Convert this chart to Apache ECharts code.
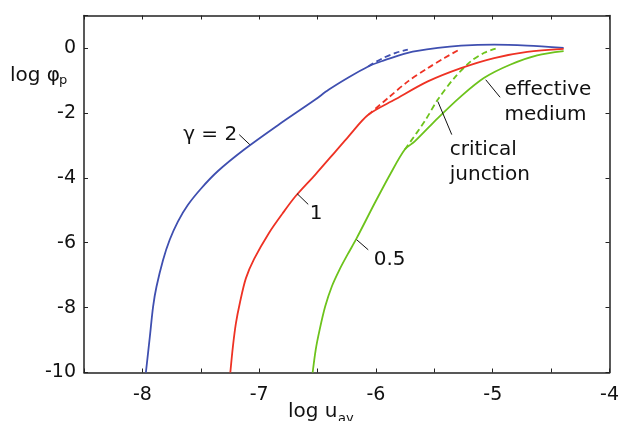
<!DOCTYPE html>
<html><head><meta charset="utf-8">
<script src="https://cdn.jsdelivr.net/npm/echarts@6/dist/echarts.min.js"></script>
<style>html,body{margin:0;padding:0;background:#fff}#c{width:622px;height:421px}</style>
</head><body><div id="c"></div>
<script>
// ---- data (log u_av, log phi_p) ----
const xTickLabels = [-8, -7, -6, -5, -4];
const yTickLabels = [-10, -8, -6, -4, -2, 0];

const g2X = [-7.97,-7.936,-7.908,-7.879,-7.823,-7.766,-7.696,-7.611,-7.497,-7.355,-7.128,-6.831,-6.519,-6.406,-6.236,-6.066,-5.952,-5.727,-5.47,-5.272,-4.988,-4.705,-4.393];
const g2Y = [-10,-8.89,-7.96,-7.35,-6.53,-5.91,-5.35,-4.84,-4.33,-3.80,-3.13,-2.36,-1.59,-1.29,-0.91,-0.57,-0.41,-0.15,0,0.07,0.10,0.07,0];
const g2DashX = [-6.066,-5.95,-5.83,-5.727];
const g2DashY = [-0.57,-0.33,-0.15,-0.05];

const g1X = [-7.247,-7.225,-7.2,-7.165,-7.114,-7.043,-6.916,-6.80,-6.689,-6.519,-6.349,-6.236,-6.066,-5.838,-5.556,-5.272,-4.988,-4.705,-4.393];
const g1Y = [-10,-9.2,-8.5,-7.85,-7.1,-6.5,-5.70,-5.10,-4.57,-3.90,-3.20,-2.73,-2.06,-1.59,-1.03,-0.62,-0.31,-0.12,-0.03];
const g1DashX = [-6.066,-5.896,-5.726,-5.556,-5.414,-5.286];
const g1DashY = [-2.06,-1.54,-1.03,-0.62,-0.31,-0.05];

const g05X = [-6.542,-6.516,-6.482,-6.435,-6.378,-6.312,-6.244,-6.165,-6.009,-5.878,-5.753,-5.668,-5.47,-5.272,-5.073,-4.847,-4.62,-4.393];
const g05Y = [-10,-9.30,-8.68,-7.97,-7.35,-6.83,-6.37,-5.86,-4.77,-3.89,-3.13,-2.88,-2.16,-1.49,-0.92,-0.51,-0.23,-0.10];
const g05DashX = [-5.753,-5.583,-5.47,-5.328,-5.187,-5.073,-4.975];
const g05DashY = [-3.13,-2.26,-1.59,-0.92,-0.41,-0.15,-0.02];

// annotation leaders: [x0,y0,x1,y1] in data units, with label text
const annoText = ['γ = 2', '1', '0.5', 'effective\nmedium', 'critical\njunction'];
const annoLeader = [
  [-7.080,-2.98,-7.171,-2.67],
  [-6.675,-4.49,-6.580,-4.82],
  [-6.165,-5.91,-6.066,-6.22],
  [-5.060,-0.98,-4.937,-1.52],
  [-5.470,-1.65,-5.351,-2.67]
];

// ---- styling/layout ----
const FONT = '"DejaVu Sans", "Liberation Sans", sans-serif';
const C_BLUE = '#3f4fb0', C_RED = '#ee3224', C_GREEN = '#6dc31c';
const zip = (a, b) => a.map((v, i) => [v, b[i]]);

function axisCommon(show) {
  return {
    axisLine: { show: true, onZero: false, lineStyle: { color: '#222', width: 1.5 } },
    axisTick: { show: true, inside: true, length: 4, lineStyle: { color: '#222', width: 1 } },
    splitLine: { show: false },
    axisLabel: { show: show }
  };
}

const chart = echarts.init(document.getElementById('c'), null, { renderer: 'canvas' });

const series = [];
function addLine(xs, ys, color, dashed) {
  series.push({
    type: 'line', data: zip(xs, ys), showSymbol: false, smooth: 0.3, silent: true,
    xAxisIndex: 0, yAxisIndex: 0, z: dashed ? 2 : 3,
    lineStyle: { color: color, width: 1.8, type: dashed ? [6, 3.5] : 'solid' }
  });
}
addLine(g2DashX, g2DashY, C_BLUE, true);
addLine(g1DashX, g1DashY, C_RED, true);
addLine(g05DashX, g05DashY, C_GREEN, true);
addLine(g2X, g2Y, C_BLUE, false);
addLine(g1X, g1Y, C_RED, false);
addLine(g05X, g05Y, C_GREEN, false);
annoLeader.forEach(l => series.push({
  type: 'line', data: [[l[0], l[1]], [l[2], l[3]]], showSymbol: false, silent: true,
  lineStyle: { color: '#111', width: 1 }, z: 4
}));

const xBase = { type: 'value', min: -8.5, max: -4, interval: 0.5 };
const yBase = { type: 'value', min: -10, max: 1, interval: 2 };

chart.setOption({
  animation: false,
  backgroundColor: '#fff',
  grid: { left: 84, right: 8, top: 15.5, bottom: 48.5 },
  xAxis: [
    Object.assign({}, xBase, axisCommon(true), { position: 'bottom',
      axisLabel: { show: true, margin: 13, fontSize: 19, fontFamily: FONT, color: '#111',
        formatter: v => xTickLabels.indexOf(v) >= 0 ? String(v) : '' } }),
    Object.assign({}, xBase, axisCommon(false), { position: 'top' })
  ],
  yAxis: [
    Object.assign({}, yBase, axisCommon(true), { position: 'left',
      axisLabel: { show: true, margin: 8, fontSize: 19, fontFamily: FONT, color: '#111',
        formatter: v => yTickLabels.indexOf(v) >= 0 ? String(v) : '' } }),
    Object.assign({}, yBase, axisCommon(false), { position: 'right' })
  ],
  series: series
});

// text labels placed relative to leader ends
const offs = [[-2, 7, 'right'], [1.5, 16.5, 'left'], [5.5, 17, 'left'], [4.3, 0, 'left'], [-2, 21.7, 'left']];
const FS = 20, LH = 25;
const graphics = [];
annoText.forEach((t, i) => {
  const p = chart.convertToPixel({ gridIndex: 0 }, [annoLeader[i][2], annoLeader[i][3]]);
  t.split('\n').forEach((line, k) => {
    const base = p[1] + offs[i][1] + k * LH;
    graphics.push({ type: 'text', silent: true, style: {
      text: line, x: p[0] + offs[i][0], y: base - 0.35 * FS,
      font: FS + 'px ' + FONT, fill: '#111', align: offs[i][2], verticalAlign: 'middle' } });
  });
});
// axis names
graphics.push({ type: 'text', silent: true, style: { text: 'log φ', x: 10, y: 82.3 - 0.35 * FS, font: FS + 'px ' + FONT, fill: '#111', align: 'left', verticalAlign: 'middle' } });
graphics.push({ type: 'text', silent: true, style: { text: 'p', x: 59, y: 85 - 0.35 * 13, font: '13px ' + FONT, fill: '#111', align: 'left', verticalAlign: 'middle' } });
graphics.push({ type: 'text', silent: true, style: { text: 'log u', x: 288, y: 418.5 - 0.35 * FS, font: FS + 'px ' + FONT, fill: '#111', align: 'left', verticalAlign: 'middle' } });
graphics.push({ type: 'text', silent: true, style: { text: 'av', x: 338, y: 423.5 - 0.35 * 13, font: '13px ' + FONT, fill: '#111', align: 'left', verticalAlign: 'middle' } });
chart.setOption({ graphic: graphics });
</script>
</body></html>
